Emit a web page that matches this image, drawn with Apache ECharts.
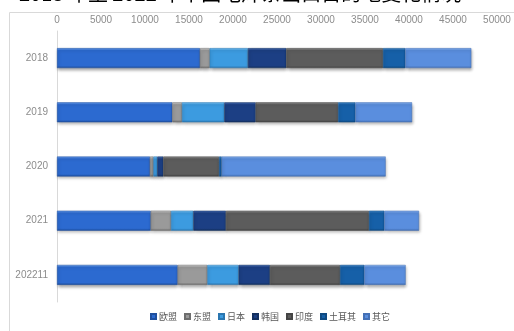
<!DOCTYPE html>
<html><head><meta charset="utf-8">
<script src="https://cdn.jsdelivr.net/npm/echarts@6/dist/echarts.min.js"></script>
<style>html,body{margin:0;padding:0;background:#fff}#c{width:514px;height:331px}</style>
</head><body><div id="c"></div>
<script>
var categories = ['2018', '2019', '2020', '2021', '202211'];
var seriesNames = ['欧盟', '东盟', '日本', '韩国', '印度', '土耳其', '其它'];
var euValues = [16250, 13100, 10570, 10650, 13710];
var aseanValues = [1100, 1100, 380, 2300, 3370];
var japanValues = [4350, 4810, 450, 2540, 3560];
var koreaValues = [4360, 3570, 680, 3710, 3560];
var indiaValues = [10980, 9360, 6330, 16250, 7960];
var turkeyValues = [2540, 1970, 300, 1750, 2760];
var otherValues = [7500, 6440, 18640, 3940, 4700];
var xTicks = [0, 5000, 10000, 15000, 20000, 25000, 30000, 35000, 40000, 45000, 50000];
var titleText = '2018 年至 2022 年中国电焊条出口目的地变化情况';

var allValues = [euValues, aseanValues, japanValues, koreaValues, indiaValues, turkeyValues, otherValues];
var baseColors = ['#2c6ad0', '#9a9a9a', '#3c9be0', '#1c3f84', '#5c5c5c', '#1660a8', '#5a8ede'];
var lightColors = ['#6aa0f0', '#d0d0d0', '#7cc4f5', '#4a70b8', '#949494', '#4a8ed0', '#8ab4f2'];
var darkColors = ['#1f4f9e', '#6e6e6e', '#2a76b0', '#13305f', '#444444', '#0f4a82', '#4470b5'];

function grad(i) {
  return new echarts.graphic.LinearGradient(0, 0, 0, 1, [
    {offset: 0, color: lightColors[i]},
    {offset: 0.12, color: baseColors[i]},
    {offset: 0.88, color: baseColors[i]},
    {offset: 1, color: darkColors[i]}
  ]);
}

var chart = echarts.init(document.getElementById('c'));
var series = seriesNames.map(function (n, i) {
  return {
    name: n, type: 'bar', stack: 'total', barWidth: 20,
    data: allValues[i],
    itemStyle: {
      color: grad(i),
      borderColor: darkColors[i], borderWidth: 0.5,
      shadowColor: 'rgba(0,0,0,0.35)', shadowBlur: 3, shadowOffsetY: 2, shadowOffsetX: 1
    }
  };
});
chart.setOption({
  animation: false,
  title: {
    text: titleText, left: 14, top: -22,
    textStyle: {fontSize: 20, fontWeight: 'normal', color: '#000', fontFamily: 'Noto Sans CJK SC'}
  },
  graphic: [{
    type: 'rect', shape: {x: 9.5, y: 12.5, width: 520, height: 330},
    style: {fill: 'none', stroke: '#d9d9d9', lineWidth: 1}, z: -1
  }],
  legend: {
    bottom: 5, left: 145, icon: 'rect', itemWidth: 5, itemHeight: 5, itemGap: 7,
    textStyle: {fontSize: 9, color: '#595959', fontFamily: 'Noto Sans CJK SC', padding: [0, 0, 0, -2]},
    data: seriesNames
  },
  grid: {left: 57, right: 17, top: 31, bottom: 29},
  xAxis: {
    type: 'value', position: 'top', min: xTicks[0], max: xTicks[xTicks.length - 1], interval: 5000,
    axisLine: {show: false}, axisTick: {show: false}, splitLine: {show: false},
    axisLabel: {color: '#8c8c8c', fontSize: 10, margin: 6, fontFamily: 'Liberation Sans',
      formatter: function (v) { return String(v); }}
  },
  yAxis: {
    type: 'category', inverse: true, data: categories,
    axisLine: {show: true, lineStyle: {color: '#d9d9d9'}}, axisTick: {show: false},
    axisLabel: {color: '#8c8c8c', fontSize: 10, margin: 9, fontFamily: 'Liberation Sans'}
  },
  series: series
});
</script></body></html>
